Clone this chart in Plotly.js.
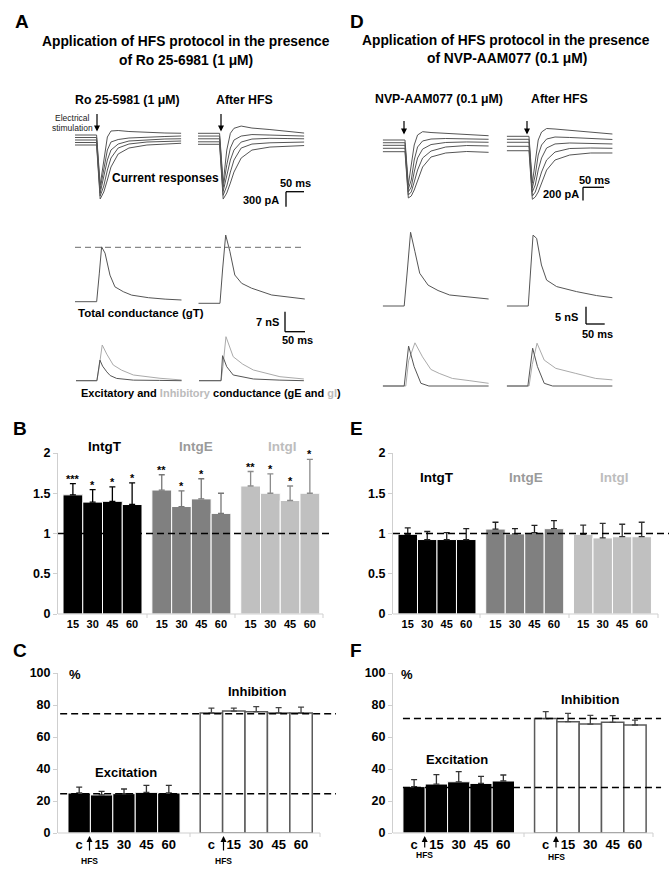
<!DOCTYPE html>
<html><head><meta charset="utf-8">
<script src="https://cdn.plot.ly/plotly-3.0.1.min.js"></script>
<style>html,body{margin:0;padding:0;background:#fff;}#plot{width:672px;height:881px;}</style>
</head><body><div id="plot"></div>
<script>
// ---------------- DATA ----------------
// Panel A current responses (pA), time (ms)
const tCurA = [0, 60, 70, 80, 90, 100, 120, 150, 200, 250, 295];
const curAL1 = [0, 0, -1000, -500, -40, 80, 90, 70, 50, 40, 35];
const curAL2 = [-50, -50, -1080, -700, -300, -140, -90, -60, -40, -30, -20];
const curAL3 = [-100, -100, -1160, -860, -500, -300, -180, -120, -95, -80, -75];
const curAL4 = [-150, -150, -1220, -1020, -700, -460, -260, -180, -140, -130, -120];
const curAL5 = [-200, -200, -1280, -1140, -900, -640, -380, -260, -200, -180, -165];
const curAR1 = [0, 0, -1000, -335, 0, 100, 145, 105, 75, 35, 5];
const curAR2 = [-55, -55, -1080, -630, -295, -135, -55, -25, -35, -45, -55];
const curAR3 = [-110, -110, -1160, -855, -535, -335, -175, -115, -100, -105, -110];
const curAR4 = [-170, -170, -1240, -1055, -775, -535, -295, -215, -190, -175, -175];
const curAR5 = [-220, -220, -1315, -1195, -995, -775, -495, -335, -275, -255, -245];
// Panel D current responses (pA)
const tCurD = [0, 53, 61, 68, 75, 83, 95, 115, 150, 200, 252];
const curDL1 = [0, 0, -690, -385, -77, 77, 128, 115, 100, 85, 66];
const curDL2 = [-42, -42, -755, -616, -308, -108, -15, 15, 23, 20, 11];
const curDL3 = [-82, -82, -800, -725, -493, -277, -140, -70, -38, -30, -35];
const curDL4 = [-128, -128, -847, -800, -647, -462, -277, -170, -108, -85, -92];
const curDL5 = [-180, -180, -893, -862, -770, -616, -416, -262, -200, -177, -190];
const curDR1 = [0, 0, -720, -365, -57, 66, 120, 112, 90, 66, 35];
const curDR2 = [-46, -46, -795, -596, -288, -134, -42, -11, -18, -34, -49];
const curDR3 = [-92, -92, -858, -750, -518, -334, -180, -118, -103, -110, -118];
const curDR4 = [-154, -154, -920, -858, -720, -550, -365, -242, -188, -180, -185];
const curDR5 = [-222, -222, -970, -935, -858, -720, -520, -365, -288, -257, -257];
// Panel A conductances (nS)
const tgTAL = [0, 57, 64, 70, 79, 92, 105, 127, 149, 193, 237, 280];
const gTAL = [0, 0, 10, 19.2, 17.0, 9.3, 5.2, 3.5, 2.3, 1.4, 0.9, 0.6];
const tgTAR = [0, 57, 64, 72, 83, 96, 114, 140, 193, 263, 280];
const gTAR = [0, 0, 12, 23.9, 18.2, 9.9, 7.0, 5.3, 2.9, 1.75, 1.5];
const gTRefA = 19.0;
const tgEAL = [0, 55, 63, 70, 81, 90, 107, 151, 220, 278];
const gEAL = [0, 0, 7.2, 5.1, 3.1, 1.8, 0.8, 0.2, 0.1, 0];
const tgIAL = [0, 55, 60, 69, 81, 98, 120, 151, 221, 278];
const gIAL = [0, 0, 4, 12.5, 9.3, 5.5, 3.7, 2.0, 0.85, 0.25];
const tgEAR = [0, 58, 62, 73, 90, 143, 213, 276];
const gEAR = [0, 0, 8.75, 4.9, 2.0, 0.6, 0.2, 0];
const tgIAR = [0, 58, 63, 71, 90, 115, 143, 213, 276];
const gIAR = [0, 0, 5, 15.4, 8.4, 5.8, 3.75, 1.4, 0.6];
// Panel D conductances (nS)
const tgTDL = [0, 54, 62, 70, 81, 93, 114, 139, 168, 218, 266];
const gTDL = [0, 0, 10, 20.5, 15.1, 9.1, 5.8, 4.3, 3.06, 2.6, 1.95];
const tgTDR = [0, 54, 60, 66, 75, 87, 100, 125, 175, 225, 265];
const gTDR = [0, 0, 10, 19.7, 18.8, 11.4, 7.2, 5.4, 4.0, 2.9, 2.3];
const tgEDL = [0, 54, 65, 79, 96, 116, 266];
const gEDL = [0, 0, 11.1, 5.4, 0.75, 0, 0];
const tgIDL = [0, 58, 65, 81, 100, 121, 142, 175, 217, 266];
const gIDL = [0, 0, 7, 12, 8.1, 4.6, 3.5, 2.1, 1.5, 0.75];
const tgEDR = [0, 53, 65, 77, 94, 115, 265];
const gEDR = [0, 0, 10.5, 5.4, 0.75, 0, 0];
const tgIDR = [0, 56, 64, 76, 94, 123, 173, 223, 265];
const gIDR = [0, 0, 6, 11.9, 7.2, 4.9, 3.5, 2.1, 1.7];

// Panels B / E (normalised integrals)
const timeLabels = ['15', '30', '45', '60'];
const groupNames = ['IntgT', 'IntgE', 'IntgI'];
const intgT_B = [1.48, 1.39, 1.40, 1.36];
const intgT_B_err = [0.14, 0.155, 0.18, 0.27];
const intgE_B = [1.54, 1.335, 1.43, 1.25];
const intgE_B_err = [0.19, 0.195, 0.25, 0.25];
const intgI_B = [1.59, 1.50, 1.41, 1.50];
const intgI_B_err = [0.18, 0.24, 0.18, 0.42];
const starsT_B = ['***', '*', '*', '*'];
const starsE_B = ['**', '*', '*', ''];
const starsI_B = ['**', '*', '*', '*'];
const intgT_E = [0.99, 0.925, 0.925, 0.925];
const intgT_E_err = [0.08, 0.10, 0.085, 0.135];
const intgE_E = [1.055, 0.995, 1.01, 1.06];
const intgE_E_err = [0.085, 0.065, 0.09, 0.10];
const intgI_E = [0.99, 0.945, 0.96, 0.96];
const intgI_E_err = [0.115, 0.18, 0.155, 0.18];
const refLevel = 1;

// Panels C / F (% excitation / inhibition)
const condLabels = ['c', '15', '30', '45', '60'];
const excC = [25, 23.8, 24.6, 25.4, 25];
const excC_err = [3.7, 2.2, 2.9, 4.4, 4.8];
const inhC = [75, 76.2, 75.8, 75, 75];
const inhC_err = [3.0, 1.8, 3.2, 3.3, 3.7];
const refC = [24.5, 74.5];
const excF = [29, 30.6, 32, 31, 32.5];
const excF_err = [4.3, 5.9, 6.3, 4.4, 3.75];
const inhF = [71.5, 69.6, 68.1, 69.2, 67.5];
const inhF_err = [4.3, 5.2, 5.4, 4.1, 3.1];
const refF = [28.5, 71.5];

// ---------------- LAYOUT HELPERS ----------------
const W = 672, H = 881;
const FONT = 'Arial, "Liberation Sans", sans-serif';
const px = x => x / W;
const py = y => 1 - y / H;
const traces = [];
const layout = {
  width: W, height: H, margin: {l: 0, r: 0, t: 0, b: 0},
  paper_bgcolor: '#fff', plot_bgcolor: 'rgba(0,0,0,0)',
  showlegend: false, barmode: 'overlay', bargap: 0,
  font: {family: FONT, color: '#000'},
  annotations: [], shapes: []
};
let axN = 0;
function addAxes(xbox, xrange, ybox, yrange, visible) {
  axN++;
  const s = axN === 1 ? '' : String(axN);
  layout['xaxis' + s] = {domain: [px(xbox[0]), px(xbox[1])], range: xrange, visible: !!visible,
    anchor: 'y' + s, fixedrange: true, showgrid: false, zeroline: false};
  layout['yaxis' + s] = {domain: [py(ybox[1]), py(ybox[0])], range: yrange, visible: !!visible,
    anchor: 'x' + s, fixedrange: true, showgrid: false, zeroline: false};
  return {x: 'x' + s, y: 'y' + s, xa: 'xaxis' + s, ya: 'yaxis' + s};
}
function yr(top, bottom, base, per) { return [-(bottom - base) * per, (base - top) * per]; }
function line(ax, t, v, color) {
  traces.push({type: 'scatter', mode: 'lines', x: t, y: v, xaxis: ax.x, yaxis: ax.y,
    line: {color: color, width: 1}, hoverinfo: 'skip'});
}
function txt(x, y, text, size, o) {
  o = o || {};
  layout.annotations.push({xref: 'paper', yref: 'paper', x: px(x), y: py(y), text: text, showarrow: false,
    font: {family: FONT, size: size, color: o.color || '#000', weight: o.weight || 'bold'},
    xanchor: o.xa || 'center', yanchor: 'middle'});
}
function seg(x0, y0, x1, y1, color, width, dash) {
  layout.shapes.push({type: 'line', xref: 'paper', yref: 'paper', x0: px(x0), y0: py(y0), x1: px(x1), y1: py(y1),
    line: {color: color || '#000', width: width || 1.3, dash: dash || 'solid'}});
}
function arrow(xh, yh, dy) {
  layout.annotations.push({xref: 'paper', yref: 'paper', x: px(xh), y: py(yh), ax: 0, ay: dy,
    showarrow: true, arrowhead: 2, arrowsize: 1, arrowwidth: 1.2, arrowcolor: '#000', text: '', standoff: 0});
}

// ---------------- TRACES (A, D) ----------------
const CUR = '#555', GT = '#555', GI = '#aaa';
let ax;
ax = addAxes([75, 182], [0, 297.5], [105, 210], yr(105, 210, 135, 20));
[curAL1, curAL2, curAL3, curAL4, curAL5].forEach(v => line(ax, tCurA, v, CUR));
ax = addAxes([198, 305], [0, 297.5], [105, 210], yr(105, 210, 133.3, 20));
[curAR1, curAR2, curAR3, curAR4, curAR5].forEach(v => line(ax, tCurA, v, CUR));
ax = addAxes([382.7, 489], [0, 253], [105, 210], yr(105, 210, 140, 15.4));
[curDL1, curDL2, curDL3, curDL4, curDL5].forEach(v => line(ax, tCurD, v, CUR));
ax = addAxes([506.7, 612.7], [0, 252.3], [105, 210], yr(105, 210, 136.3, 15.4));
[curDR1, curDR2, curDR3, curDR4, curDR5].forEach(v => line(ax, tCurD, v, CUR));

const axGTAL = addAxes([75, 182], [0, 281.4], [225, 310], yr(225, 310, 301.7, 0.35));
line(axGTAL, tgTAL, gTAL, GT);
ax = addAxes([198.3, 305], [0, 280.6], [225, 310], yr(225, 310, 303.3, 0.35));
line(ax, tgTAR, gTAR, GT);
ax = addAxes([76, 182], [0, 279], [325, 392], yr(325, 392, 380.7, 0.35));
line(ax, tgIAL, gIAL, GI); line(ax, tgEAL, gEAL, GT);
ax = addAxes([199, 305], [0, 279], [325, 392], yr(325, 392, 380.7, 0.35));
line(ax, tgIAR, gIAR, GI); line(ax, tgEAR, gEAR, GT);

ax = addAxes([382.7, 489], [0, 267], [225, 310], yr(225, 310, 306, 0.278));
line(ax, tgTDL, gTDL, GT);
ax = addAxes([506.7, 612.7], [0, 265.5], [225, 310], yr(225, 310, 306, 0.278));
line(ax, tgTDR, gTDR, GT);
ax = addAxes([382.7, 489], [0, 267], [325, 392], yr(325, 392, 386, 0.278));
line(ax, tgIDL, gIDL, GI); line(ax, tgEDL, gEDL, GT);
ax = addAxes([506.7, 612.7], [0, 265.5], [325, 392], yr(325, 392, 386, 0.278));
line(ax, tgIDR, gIDR, GI); line(ax, tgEDR, gEDR, GT);

// dashed reference on gT (A)
layout.shapes.push({type: 'line', xref: 'paper', yref: axGTAL.y, x0: px(75), x1: px(305), y0: gTRefA, y1: gTRefA,
  line: {color: '#888', width: 1.2, dash: '6px,4px'}});

// ---------------- BAR PANELS ----------------
function barAxes(xbox, xrange, ybox, yrange, tickvals, ticktext, ytickvals, xfont) {
  const a = addAxes(xbox, xrange, ybox, yrange, true);
  Object.assign(layout[a.xa], {showline: false, ticks: '', tickvals: tickvals, ticktext: ticktext,
    tickfont: {family: FONT, size: xfont, weight: 'bold', color: '#000'}, ticklabelstandoff: 2});
  Object.assign(layout[a.ya], {showline: true, linecolor: '#cfcfcf', linewidth: 1, ticks: 'outside', ticklen: 4,
    tickcolor: '#cfcfcf', tickvals: ytickvals, tickfont: {family: FONT, size: 12.5, weight: 'bold', color: '#000'}});
  return a;
}
function bars(a, xs, ys, err, color, errColor, lineColor, lineW) {
  traces.push({type: 'bar', x: xs, y: ys, xaxis: a.x, yaxis: a.y, width: 1, hoverinfo: 'skip',
    marker: {color: color, line: {color: lineColor || '#fff', width: lineW || 1}},
    error_y: {type: 'data', symmetric: false, array: err, arrayminus: err.map(() => 0),
      color: errColor, thickness: 1.3, width: 3}});
}
function stars(a, xs, ys, err, st) {
  st.forEach((s, i) => { if (!s) return;
    layout.annotations.push({xref: a.x, yref: a.y, x: xs[i], y: ys[i] + err[i], text: s, showarrow: false,
      yanchor: 'middle', yshift: 5, font: {family: FONT, size: 11, weight: 'bold', color: '#000'}});
  });
}
function dashH(a, x0, x1, y) {
  layout.shapes.push({type: 'line', xref: a.x, yref: a.y, x0: x0, x1: x1, y0: y, y1: y, layer: 'above',
    line: {color: '#000', width: 1.5, dash: '7px,4px'}});
}
const offs4 = [0, 4.5, 9];
const posT = timeLabels.map((_, i) => i + offs4[0]);
const posE = timeLabels.map((_, i) => i + offs4[1]);
const posI = timeLabels.map((_, i) => i + offs4[2]);
const allPos = posT.concat(posE, posI);
const allLab = timeLabels.concat(timeLabels, timeLabels);
const COLS = ['#000000', '#808080', '#c0c0c0'];
const TITLECOLS = ['#000000', '#9a9a9a', '#bdbdbd'];

// B
const aB = barAxes([58, 330], [-0.754, 13.02], [453, 614], [0, 2], allPos, allLab, [0, 0.5, 1, 1.5, 2], 11);
bars(aB, posT, intgT_B, intgT_B_err, COLS[0], '#000');
bars(aB, posE, intgE_B, intgE_B_err, COLS[1], '#777');
bars(aB, posI, intgI_B, intgI_B_err, COLS[2], '#8c8c8c');
stars(aB, posT, intgT_B, intgT_B_err, starsT_B);
stars(aB, posE, intgE_B, intgE_B_err, starsE_B);
stars(aB, posI, intgI_B, intgI_B_err, starsI_B);
dashH(aB, -0.754, 13.02, refLevel);
// E
const aE = barAxes([393, 669], [-0.756, 13.4], [453, 614], [0, 2], allPos, allLab, [0, 0.5, 1, 1.5, 2], 11);
bars(aE, posT, intgT_E, intgT_E_err, COLS[0], '#222');
bars(aE, posE, intgE_E, intgE_E_err, COLS[1], '#222');
bars(aE, posI, intgI_E, intgI_E_err, COLS[2], '#333');
dashH(aE, -0.756, 13.4, refLevel);

const posEx = condLabels.map((_, i) => i);
const posIn = condLabels.map((_, i) => i + 5.9);
// C
const aC = barAxes([58, 336], [-0.946, 11.46], [673, 833], [0, 100], posEx.concat(posIn), condLabels.concat(condLabels), [0, 20, 40, 60, 80, 100], 13);
bars(aC, posEx, excC, excC_err, '#000', '#333');
bars(aC, posIn, inhC, inhC_err, '#fff', '#444', '#5a5a5a', 1.5);
dashH(aC, -0.85, 11.46, refC[0]); dashH(aC, -0.85, 11.46, refC[1]);
// F
const aF = barAxes([393, 672], [-0.946, 11.56], [673, 833], [0, 100], posEx.concat(posIn), condLabels.concat(condLabels), [0, 20, 40, 60, 80, 100], 13);
bars(aF, posEx, excF, excF_err, '#000', '#333');
bars(aF, posIn, inhF, inhF_err, '#fff', '#444', '#5a5a5a', 1.5);
dashH(aF, -0.5, 11.07, refF[0]); dashH(aF, -0.5, 11.07, refF[1]);

// baseline axis lines with group ticks
function baseAxis(x0, x1, y, ticksX) {
  seg(x0, y, x1, y, '#cfcfcf', 1);
  ticksX.forEach(x => seg(x, y, x, y + 4, '#cfcfcf', 1));
}
baseAxis(58, 323, 614, [147, 235, 323]);
baseAxis(393, 658, 614, [480, 569, 658]);
baseAxis(58, 320, 833, [190, 320]);
baseAxis(393, 653, 833, [524, 653]);

// ---------------- TEXT ----------------
txt(22, 21, 'A', 19); txt(357, 21, 'D', 19);
txt(186, 41, 'Application of HFS protocol in the presence', 13.8);
txt(186, 60, 'of Ro 25-6981 (1 μM)', 13.8);
txt(506, 40, 'Application of HFS protocol in the presence', 13.8);
txt(507, 59, 'of NVP-AAM077 (0.1 μM)', 13.8);
txt(127, 100, 'Ro 25-5981 (1 μM)', 12.3);
txt(244, 100, 'After HFS', 12.3);
txt(439, 99, 'NVP-AAM077 (0.1 μM)', 12.3);
txt(559, 99, 'After HFS', 12.3);
txt(72.5, 118, 'Electrical', 8.5, {weight: 'normal', color: '#222'});
txt(72.5, 128, 'stimulation', 8.5, {weight: 'normal', color: '#222'});
arrow(97, 131.5, -19); arrow(221, 131.5, -19);
arrow(404, 134.5, -15); arrow(527, 134.5, -15);
txt(165, 178, 'Current responses', 12);
// scale bars
txt(295, 183, '50 ms', 11); txt(281, 200, '300 pA', 11, {xa: 'right'});
seg(286, 191.7, 304, 191.7); seg(286, 191.7, 286, 206.7);
txt(594, 180, '50 ms', 11); txt(581, 194, '200 pA', 11, {xa: 'right'});
seg(583, 187.3, 604, 187.3); seg(583, 187.3, 583, 200.5);
txt(141, 313, 'Total conductance (gT)', 11.5);
txt(281, 321.7, '7 nS', 11, {xa: 'right'});
seg(285, 311.7, 285, 331.7); seg(285, 331.7, 305, 331.7);
txt(297.7, 340, '50 ms', 11);
txt(580, 316.7, '5 nS', 11, {xa: 'right'});
seg(586, 306.7, 586, 324); seg(586, 324, 604.7, 324);
txt(597.7, 334, '50 ms', 11);
txt(210.5, 392.7, 'Excitatory and <span style="color:#bbbbbb">Inhibitory</span> conductance (gE and <span style="color:#bbbbbb">gI</span>)', 11);

txt(20, 428, 'B', 19); txt(356, 428, 'E', 19);
txt(20, 650, 'C', 19); txt(356, 650, 'F', 19);
[105, 196, 282.5].forEach((x, i) => txt(x, 447, groupNames[i], 13.5, {color: TITLECOLS[i]}));
[436.5, 526, 614.5].forEach((x, i) => txt(x, 477, groupNames[i], 13.5, {color: TITLECOLS[i]}));
txt(75, 674, '%', 13); txt(407, 674, '%', 13);
txt(125.5, 772, 'Excitation', 13); txt(257, 691, 'Inhibition', 13);
txt(456.5, 759, 'Excitation', 13); txt(590, 699, 'Inhibition', 13);
// HFS arrows
arrow(89.5, 836, 16); arrow(223.5, 836, 16);
arrow(424.7, 836, 13); arrow(556, 836, 13);
txt(89.5, 861, 'HFS', 8.5); txt(223.5, 861, 'HFS', 8.5);
txt(424.7, 855, 'HFS', 8.5); txt(556, 857, 'HFS', 8.5);

Plotly.newPlot('plot', traces, layout, {staticPlot: true, displayModeBar: false});
</script></body></html>
